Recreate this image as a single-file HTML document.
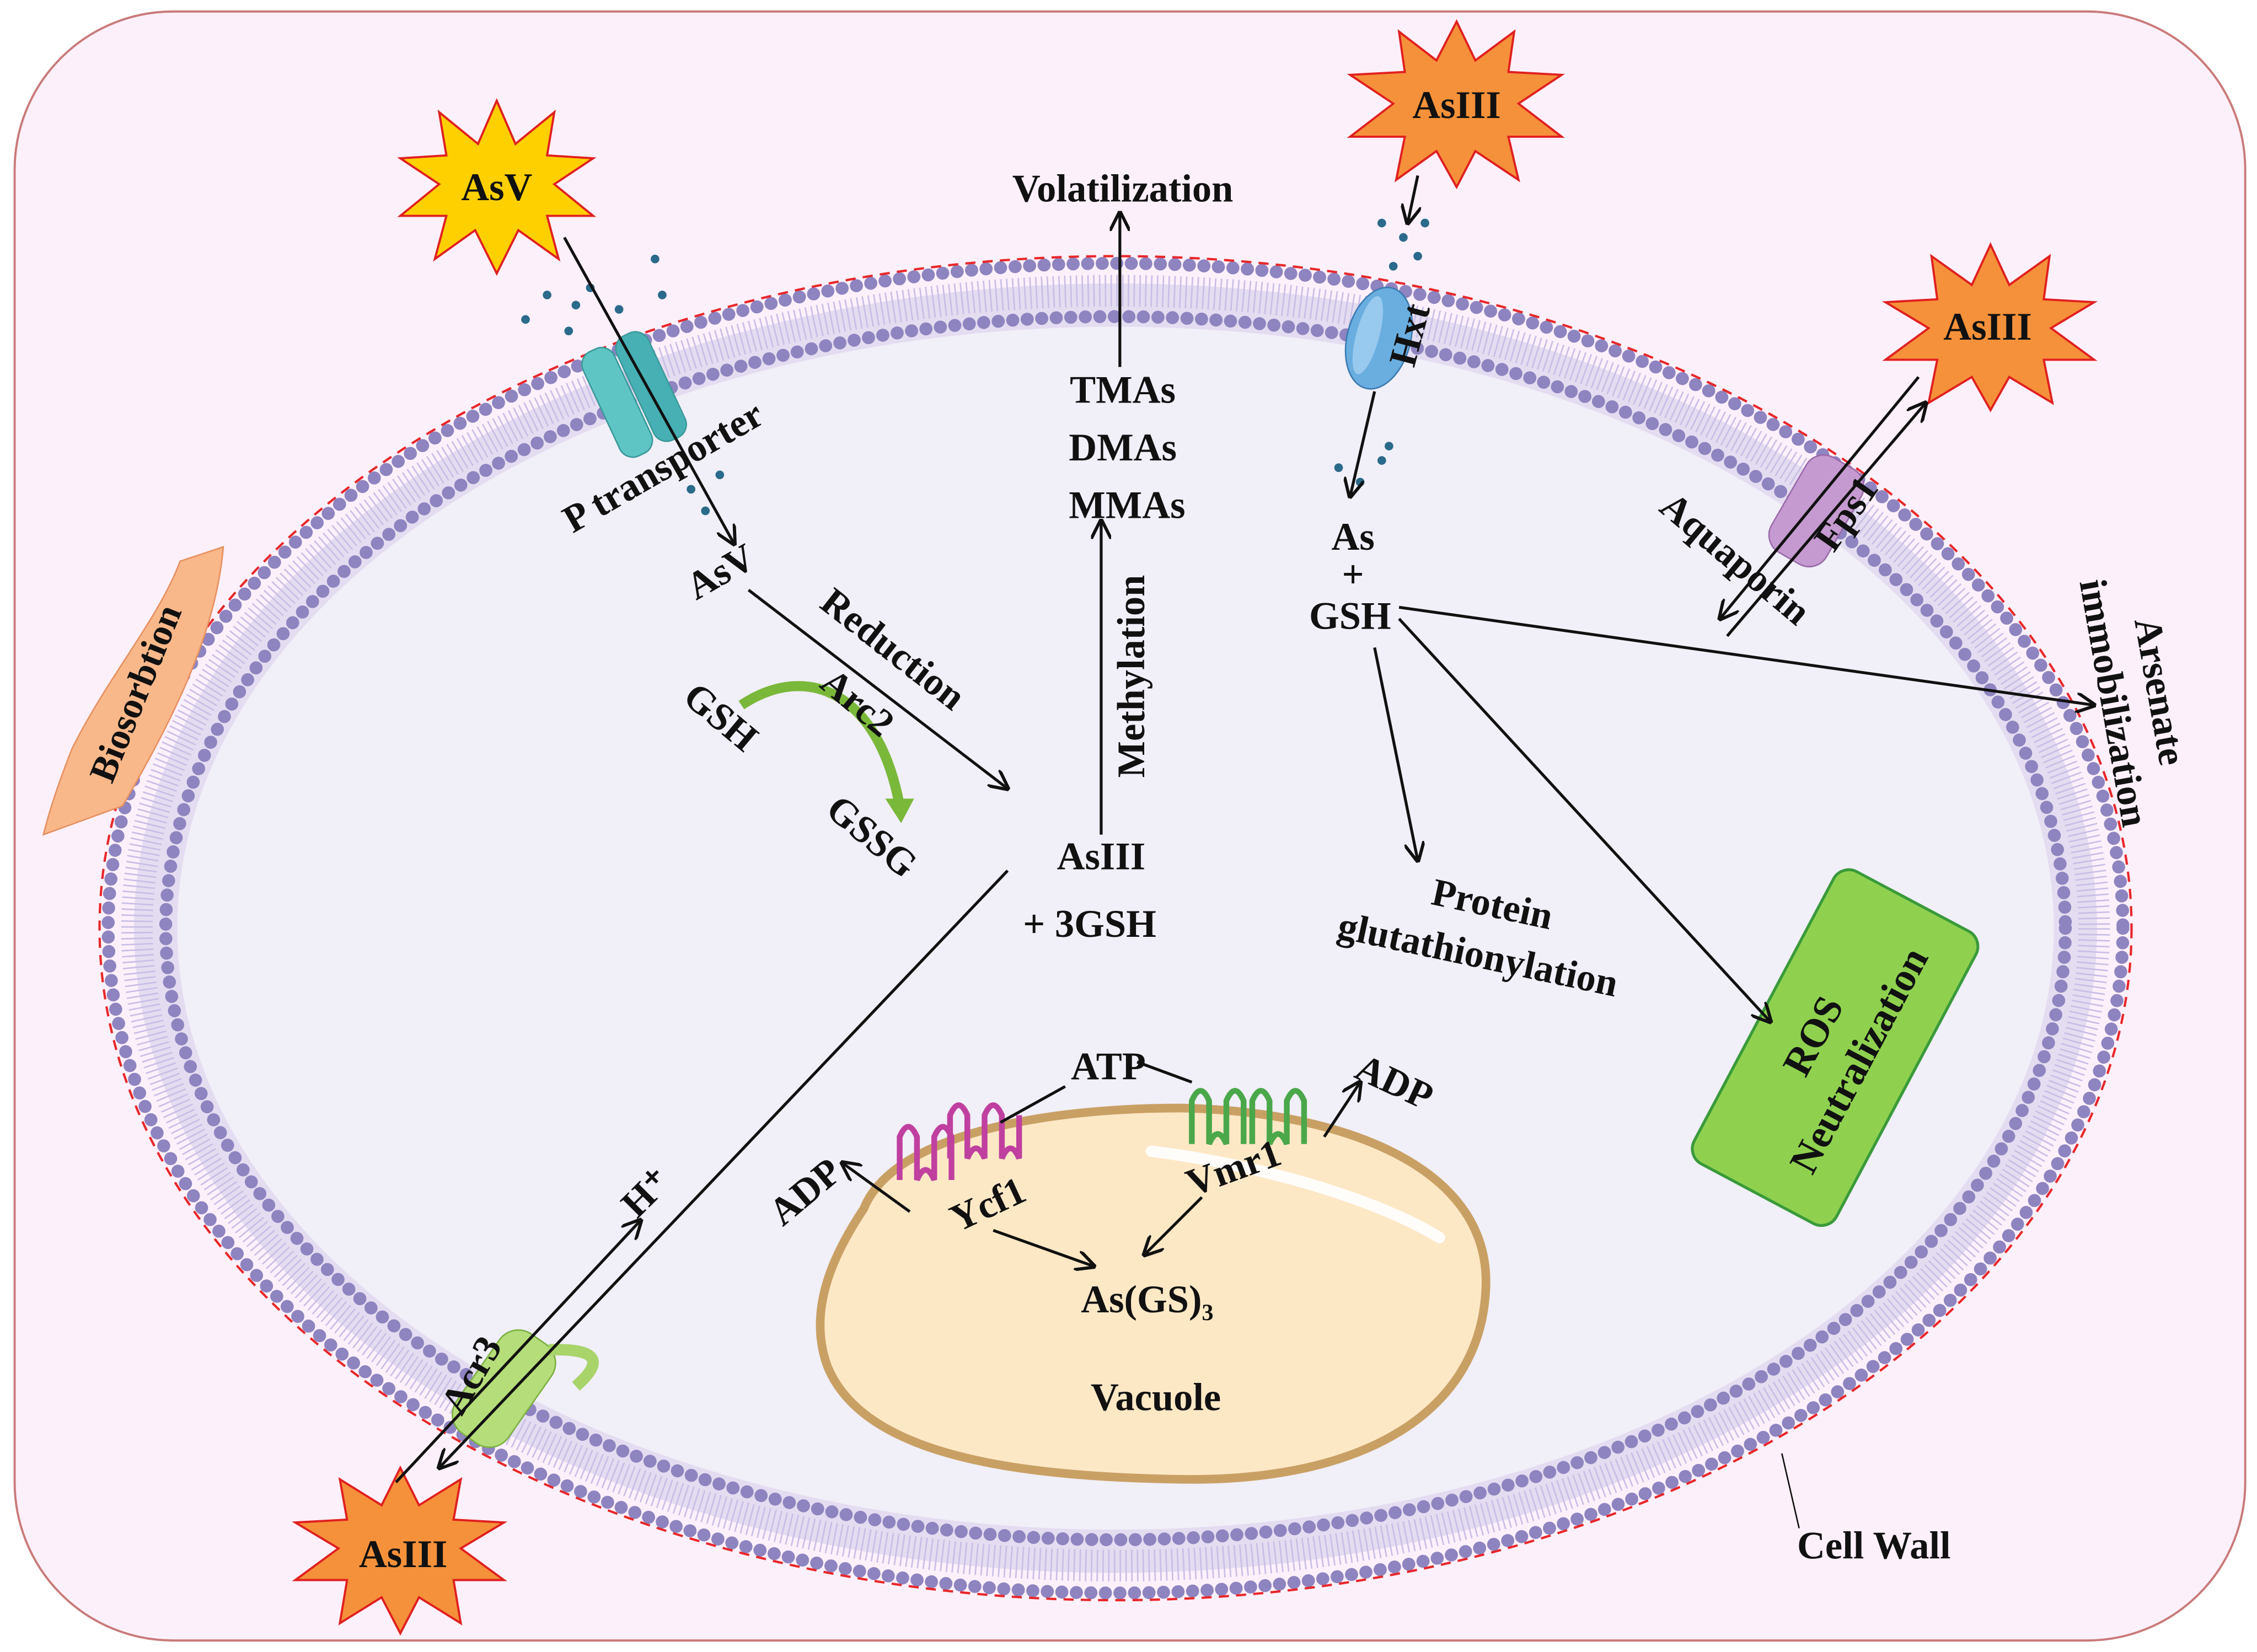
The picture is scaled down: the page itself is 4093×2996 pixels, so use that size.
<!DOCTYPE html>
<html><head><meta charset="utf-8"><style>
html,body{margin:0;padding:0;background:#fff}
svg{display:block}
text{font-family:"Liberation Serif",serif;font-weight:bold;fill:#111}
</style></head><body>
<svg width="4093" height="2996" viewBox="0 0 1568 1148" xmlns="http://www.w3.org/2000/svg">
<defs>
<marker id="a" viewBox="0 0 10 10" refX="9" refY="5" markerWidth="7" markerHeight="7" orient="auto-start-reverse"><path d="M0,0 L10,5 L0,10" fill="none" stroke="#111" stroke-width="1.6"/></marker>
</defs>
<rect x="10" y="8" width="1550" height="1132" rx="110" fill="#fcf0fa" stroke="#c97a7a" stroke-width="1.5"/>
<ellipse cx="775" cy="645" rx="682" ry="448" fill="#e4dcf0"/>
<ellipse cx="775" cy="645" rx="700" ry="462" fill="none" stroke="#8e84c0" stroke-width="9" stroke-dasharray="0.1 10" stroke-linecap="round"/>
<ellipse cx="775" cy="645" rx="660" ry="425" fill="none" stroke="#8e84c0" stroke-width="9" stroke-dasharray="0.1 10" stroke-linecap="round"/>
<ellipse cx="775" cy="645" rx="680" ry="443" fill="none" stroke="#c8bde6" stroke-width="22" stroke-dasharray="1 3"/>
<ellipse cx="775" cy="645" rx="652" ry="418" fill="#f1eff8"/>
<ellipse cx="775" cy="645" rx="706" ry="467" fill="none" stroke="#e8272a" stroke-width="1.6" stroke-dasharray="7 5"/>
<path d="M600,840 C620,790 720,770 820,770 C930,772 1040,810 1032,900 C1026,980 950,1030 820,1028 C700,1026 600,1010 575,950 C560,910 580,870 600,840Z" fill="#fde8c6" stroke="#c9a064" stroke-width="6"/>
<path d="M800,800 C880,810 960,835 1000,860" stroke="#fff" stroke-width="8" fill="none" stroke-linecap="round" opacity="0.9"/>
<path d="M50,520 C75,470 110,430 125,390 L155,380 C150,440 120,500 85,560 L30,580 C35,560 42,540 50,520 Z" fill="#f9b88a" stroke="#e79060" stroke-width="1"/>
<text transform="translate(102,485) rotate(-68)" font-size="26" text-anchor="middle">Biosorbtion</text>
<g transform="translate(445,272) rotate(-25)"><rect x="-30" y="-40" width="24" height="80" rx="10" fill="#5fc4c4" stroke="#3a9a9a"/><rect x="-4" y="-40" width="24" height="80" rx="10" fill="#47b0b4" stroke="#3a9a9a"/></g>
<g transform="translate(958,235) rotate(15)"><ellipse cx="0" cy="0" rx="22" ry="36" fill="#6aaee0" stroke="#3a7ab0"/><ellipse cx="-8" cy="0" rx="8" ry="28" fill="#98c9ee"/></g>
<g transform="translate(1262,355) rotate(30)"><rect x="-22" y="-38" width="44" height="76" rx="14" fill="#c59ad0" stroke="#9a6aaa"/></g>
<g transform="translate(350,965) rotate(35)"><rect x="-22" y="-42" width="44" height="84" rx="16" fill="#b5dd7a" stroke="#7ab040"/><path d="M10,-40 q40,-30 30,10" fill="none" stroke="#a8d46a" stroke-width="8"/></g>
<g fill="#2a6a8a">
<circle cx="365" cy="222" r="3"/><circle cx="380" cy="205" r="3"/><circle cx="395" cy="230" r="3"/><circle cx="410" cy="200" r="3"/><circle cx="430" cy="215" r="3"/><circle cx="455" cy="180" r="3"/><circle cx="460" cy="205" r="3"/><circle cx="400" cy="212" r="3"/><circle cx="480" cy="340" r="3"/><circle cx="490" cy="355" r="3"/><circle cx="500" cy="330" r="3"/>
<circle cx="960" cy="155" r="3"/><circle cx="975" cy="165" r="3"/><circle cx="990" cy="155" r="3"/><circle cx="985" cy="178" r="3"/><circle cx="968" cy="185" r="3"/><circle cx="930" cy="325" r="3"/><circle cx="945" cy="335" r="3"/><circle cx="960" cy="320" r="3"/><circle cx="965" cy="310" r="3"/>
</g>
<g stroke="#e02020" stroke-width="1.5">
<polygon points="345,70 358,100 385,78 380,108 412,110 385,128 412,150 380,150 388,180 360,160 345,190 330,160 302,180 310,150 278,150 305,128 278,110 310,108 305,78 332,100" fill="#ffd000"/>
<polygon points="1012,15 1025,42 1052,22 1048,50 1085,52 1055,72 1085,95 1048,95 1055,125 1025,105 1012,130 998,105 970,125 976,95 938,95 968,72 938,52 976,50 972,22 998,42" fill="#f5913a"/>
<polygon points="1383,170 1396,198 1424,178 1420,208 1455,210 1425,228 1455,250 1420,250 1426,280 1396,262 1383,285 1370,262 1340,280 1346,250 1310,250 1340,228 1310,210 1346,208 1342,178 1370,198" fill="#f5913a"/>
<polygon points="278,1020 291,1046 320,1028 315,1056 350,1058 320,1076 350,1098 315,1098 320,1128 291,1110 278,1135 265,1110 236,1128 241,1098 205,1098 235,1076 205,1058 241,1056 236,1028 265,1046" fill="#f5913a"/>
</g>
<text x="345" y="139" font-size="27" text-anchor="middle">AsV</text>
<text x="1012" y="82" font-size="27" text-anchor="middle">AsIII</text>
<text x="1381" y="236" font-size="27" text-anchor="middle">AsIII</text>
<text x="280" y="1089" font-size="27" text-anchor="middle">AsIII</text>
<path d="M515,490 C560,460 610,480 625,560" stroke="#7ab83a" stroke-width="7" fill="none"/>
<polygon points="615,555 635,555 626,572" fill="#7ab83a"/>
<g fill="none" stroke-width="4">
<path d="M625,820 v-30 q6,-14 12,0 v30 q6,-14 12,0 v-30 q6,-14 12,0 v30 M660,805 v-30 q6,-14 12,0 v30 q6,-14 12,0 v-30 q6,-14 12,0 v30 q6,-14 12,0 v-30" stroke="#c040a0"/>
<path d="M828,795 v-30 q6,-14 12,0 v30 q6,-14 12,0 v-30 q6,-14 12,0 v30 M870,795 v-30 q6,-14 12,0 v30 q6,-14 12,0 v-30 q6,-14 12,0 v30" stroke="#4aa84a"/>
</g>
<g transform="translate(1275,728) rotate(-62)"><rect x="-115" y="-56" width="230" height="112" rx="12" fill="#8fd14f" stroke="#3a9a3a" stroke-width="2"/>
<text x="0" y="-8" font-size="28" text-anchor="middle">ROS</text><text x="0" y="28" font-size="28" text-anchor="middle">Neutralization</text></g>
<g stroke="#111" stroke-width="2" fill="none">
<line x1="392" y1="165" x2="510" y2="378" marker-end="url(#a)"/>
<line x1="520" y1="410" x2="700" y2="548" marker-end="url(#a)"/>
<line x1="778" y1="255" x2="778" y2="148" marker-end="url(#a)"/>
<line x1="765" y1="580" x2="765" y2="362" marker-end="url(#a)"/>
<line x1="700" y1="605" x2="305" y2="1020" marker-end="url(#a)"/>
<line x1="275" y1="1030" x2="445" y2="848" marker-end="url(#a)"/>
<line x1="985" y1="122" x2="978" y2="155" marker-end="url(#a)"/>
<line x1="955" y1="272" x2="938" y2="345" marker-end="url(#a)"/>
<line x1="1200" y1="442" x2="1338" y2="280" marker-end="url(#a)"/>
<line x1="1333" y1="262" x2="1195" y2="430" marker-end="url(#a)"/>
<line x1="972" y1="422" x2="1455" y2="490" marker-end="url(#a)"/>
<line x1="972" y1="430" x2="1230" y2="710" marker-end="url(#a)"/>
<line x1="955" y1="450" x2="985" y2="598" marker-end="url(#a)"/>
<line x1="632" y1="842" x2="585" y2="808" marker-end="url(#a)"/>
<line x1="690" y1="855" x2="760" y2="880" marker-end="url(#a)"/>
<line x1="835" y1="832" x2="795" y2="872" marker-end="url(#a)"/>
<line x1="920" y1="790" x2="945" y2="752" marker-end="url(#a)"/>
<line x1="695" y1="780" x2="740" y2="755"/>
<line x1="790" y1="738" x2="828" y2="752"/>
<line x1="1250" y1="1062" x2="1238" y2="1010" stroke-width="1"/>
</g>
<g font-size="27">
<text x="780" y="140" text-anchor="middle">Volatilization</text>
<text x="780" y="280" text-anchor="middle">TMAs</text>
<text x="780" y="320" text-anchor="middle">DMAs</text>
<text x="783" y="360" text-anchor="middle">MMAs</text>
<text transform="translate(795,470) rotate(-90)" text-anchor="middle">Methylation</text>
<text x="765" y="604" text-anchor="middle">AsIII</text>
<text x="757" y="651" text-anchor="middle">+ 3GSH</text>
<text x="940" y="382" text-anchor="middle">As</text>
<text x="940" y="408" text-anchor="middle">+</text>
<text x="938" y="437" text-anchor="middle">GSH</text>
<text transform="translate(505,405) rotate(-30)" text-anchor="middle">AsV</text>
<text transform="translate(615,458) rotate(38)" text-anchor="middle">Reduction</text>
<text transform="translate(590,495) rotate(40)" text-anchor="middle">Arc2</text>
<text transform="translate(495,505) rotate(40)" text-anchor="middle">GSH</text>
<text transform="translate(600,588) rotate(40)" text-anchor="middle">GSSG</text>
<text transform="translate(465,332) rotate(-30)" text-anchor="middle">P  transporter</text>
<text transform="translate(988,235) rotate(-75)" text-anchor="middle">Hxt</text>
<text transform="translate(1290,362) rotate(-55)" text-anchor="middle">Fps1</text>
<text transform="translate(1200,395) rotate(40)" text-anchor="middle">Aquaporin</text>
<text transform="translate(1492,482) rotate(80)" text-anchor="middle">Arsenate</text>
<text transform="translate(1460,490) rotate(80)" text-anchor="middle">immobilization</text>
<text transform="translate(1035,637) rotate(12)" text-anchor="middle">Protein</text>
<text transform="translate(1025,672) rotate(12)" text-anchor="middle">glutathionylation</text>
<text x="770" y="750" text-anchor="middle">ATP</text>
<text transform="translate(965,760) rotate(25)" text-anchor="middle">ADP</text>
<text transform="translate(565,835) rotate(-40)" text-anchor="middle">ADP</text>
<text transform="translate(690,845) rotate(-25)" text-anchor="middle">Ycf1</text>
<text transform="translate(860,820) rotate(-20)" text-anchor="middle">Vmr1</text>
<text x="797" y="912" text-anchor="middle">As(GS)₃</text>
<text x="803" y="980" text-anchor="middle">Vacuole</text>
<text transform="translate(455,835) rotate(-45)" text-anchor="middle">H⁺</text>
<text transform="translate(335,960) rotate(-60)" text-anchor="middle">Acr3</text>
<text x="1302" y="1083" text-anchor="middle">Cell Wall</text>
</g>
</svg>
</body></html>
